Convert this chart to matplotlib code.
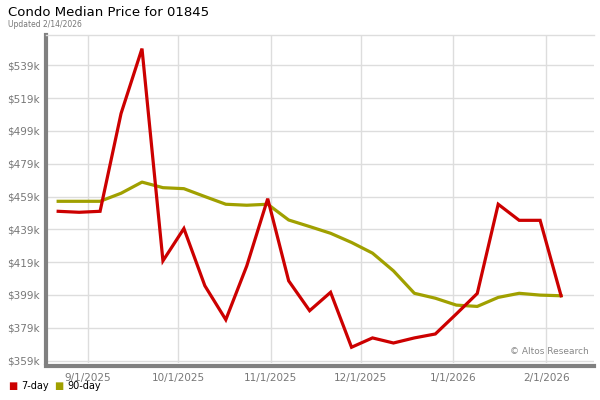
import matplotlib
matplotlib.use("Agg")
import matplotlib.pyplot as plt
import matplotlib.dates as mdates
import numpy as np
from datetime import date, timedelta

# weekly data points (Fridays)
dates = [date(2025, 8, 22) + timedelta(weeks=i) for i in range(25)]
price_7day = [450.0, 449.4, 450.0, 509.6, 549.2, 419.8, 439.5, 404.6, 383.9, 416.7,
              457.7, 407.6, 389.4, 400.6, 367.1, 372.8, 369.7, 372.8, 375.2, 387.4,
              399.9, 454.3, 444.5, 444.5, 398.5]
price_90day = [456.1, 456.1, 456.1, 461.0, 467.8, 464.4, 463.8, 459.0, 454.3, 453.7,
               454.3, 444.7, 440.7, 436.6, 431.0, 424.5, 413.7, 400.0, 397.0, 392.8,
               392.0, 397.5, 400.0, 398.9, 398.5]
y_ticks = [359, 379, 399, 419, 439, 459, 479, 499, 519, 539]
x_ticks = [date(2025, 9, 1), date(2025, 10, 1), date(2025, 11, 1),
           date(2025, 12, 1), date(2026, 1, 1), date(2026, 2, 1)]

red = '#cc0000'
olive = '#a0a000'
gray_txt = '#777777'

fig = plt.figure(figsize=(6, 4), dpi=100)
ax = fig.add_axes([0.077, 0.0925, 0.913, 0.82])

ax.plot(dates, price_7day, color=red, lw=2.3, solid_joinstyle='miter', zorder=3)
ax.plot(dates, price_90day, color=olive, lw=2.3, zorder=2)

ax.set_ylim(357.5, 557.5)
ax.set_xlim(date(2025, 8, 18), date(2026, 2, 17))
ax.set_yticks(y_ticks)
ax.set_yticklabels(['$%dk' % v for v in y_ticks])
ax.set_xticks(x_ticks)
ax.xaxis.set_major_formatter(mdates.DateFormatter('%-m/%-d/%Y'))

ax.grid(True, color='#dddddd', lw=1)
ax.set_axisbelow(True)
ax.tick_params(length=0, labelsize=7.5, labelcolor=gray_txt, pad=5)

for s in ['top', 'right']:
    ax.spines[s].set_color('#dddddd')
    ax.spines[s].set_linewidth(1)
ax.spines['right'].set_visible(False)
ax.spines['left'].set_color('#808080')
ax.spines['left'].set_linewidth(3)
ax.spines['bottom'].set_color('#808080')
ax.spines['bottom'].set_linewidth(3)
ax.spines['bottom'].set_position(('outward', 2))

ax.text(0.99, 0.02, '\u00a9 Altos Research', transform=ax.transAxes,
        ha='right', va='bottom', fontsize=6.5, color='#888888')

fig.text(0.013, 0.97, 'Condo Median Price for 01845', fontsize=9.5, va='center')
fig.text(0.013, 0.938, 'Updated 2/14/2026', fontsize=5.5, color=gray_txt, va='center')

# legend
fig.text(0.013, 0.034, '\u25a0', color=red, fontsize=7, va='center')
fig.text(0.035, 0.034, '7-day', fontsize=7, va='center')
fig.text(0.09, 0.034, '\u25a0', color=olive, fontsize=7, va='center')
fig.text(0.112, 0.034, '90-day', fontsize=7, va='center')

fig.savefig('out.png', dpi=100)
